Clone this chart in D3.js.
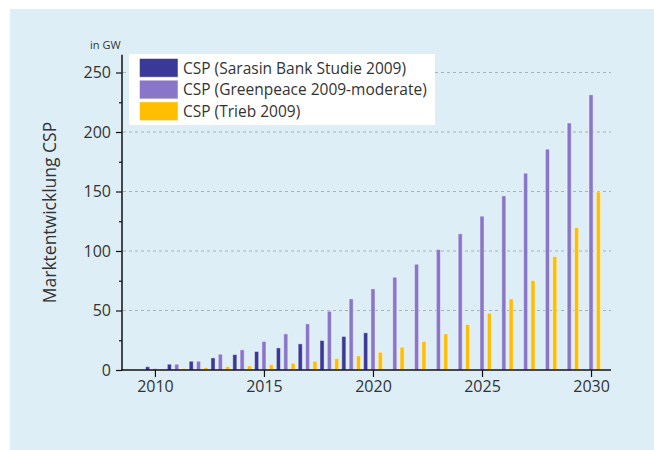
<!DOCTYPE html>
<html><head><meta charset="utf-8">
<script src="https://cdn.jsdelivr.net/npm/d3@7"></script>
<style>
html,body{margin:0;padding:0;background:#fff;}
svg{display:block;font-family:"Open Sans","Noto Sans",sans-serif;}
</style></head>
<body>
<svg id="chart" width="654" height="450"></svg>
<script>
const years = [2009,2010,2011,2012,2013,2014,2015,2016,2017,2018,2019,2020,2021,2022,2023,2024,2025,2026,2027,2028,2029,2030];
const sarasin = [0.8,3.2,5.3,7.8,10.6,13.4,16,19,22.4,25.2,28.6,31.7];
const greenpeace = [0.8,1.6,5.3,7.8,13.7,17.4,24.4,30.8,39.2,49.8,60.2,68.6,78.4,89.3,101.7,114.9,129.7,146.8,165.8,186,208,231.7];
const trieb = [0.5,1.1,1.7,2.5,3.4,3.9,5,6.1,7.8,10.1,12.3,15.4,19.6,24.4,30.8,38.7,48.2,60.2,75.6,95.8,120.2,150];
const seriesNames = ["CSP (Sarasin Bank Studie 2009)","CSP (Greenpeace 2009-moderate)","CSP (Trieb 2009)"];
const seriesColors = ["#3b3997","#8a76c8","#ffbe00"];
const seriesData = [sarasin, greenpeace, trieb];
const xTicks = [2010,2015,2020,2025,2030];
const yTicks = [0,50,100,150,200,250];
const yMinor = [25,75,125,175,225];

const svg = d3.select("#chart");
// panel background
svg.append("rect").attr("x",10).attr("y",9).attr("width",644).attr("height",441).attr("fill","#deeef7");

const x = d3.scaleLinear().domain([2008.49,2030.87]).range([122,610]);
const y = d3.scaleLinear().domain([0,265]).range([370,54.65]);
const inner = d3.scaleBand().domain([0,1,2]).range([-11,11]).paddingInner(0.3).paddingOuter(0.15);

// gridlines
svg.append("g").selectAll("line").data(yTicks.filter(d=>d>0)).join("line")
  .attr("x1",123).attr("x2",611).attr("y1",d=>y(d)).attr("y2",d=>y(d))
  .attr("stroke","#a9b1b9").attr("stroke-width",1).attr("stroke-dasharray","3,3");

// bars
seriesData.forEach((vals,si)=>{
  svg.append("g").selectAll("rect").data(vals.map((v,i)=>({year:years[i],v}))).join("rect")
    .attr("x",d=>x(d.year)+inner(si)+0.5)
    .attr("width",inner.bandwidth()-1)
    .attr("y",d=>y(d.v)+0.5)
    .attr("height",d=>Math.max(0,y(0)-y(d.v)-0.5))
    .attr("fill",seriesColors[si])
    .attr("stroke","rgba(255,255,255,0.45)")
    .attr("stroke-width",1);
});

// y axis
const yAxis = svg.append("g").attr("transform","translate(122,0)")
  .call(d3.axisLeft(y).tickValues(yTicks).tickSize(6).tickPadding(5));
yAxis.select(".domain").remove();
svg.append("g").attr("transform","translate(122,0)")
  .call(d3.axisLeft(y).tickValues(yMinor).tickSize(3).tickFormat(""))
  .select(".domain").remove();
svg.append("line").attr("x1",122).attr("x2",122).attr("y1",y(265)).attr("y2",y(0)+0.75)
  .attr("stroke","#111").attr("stroke-width",1.5);

// x axis
const xAxis = svg.append("g").attr("transform","translate(0,370)")
  .call(d3.axisBottom(x).tickValues(xTicks).tickFormat(d3.format("d")).tickSize(7).tickPadding(4));
xAxis.select(".domain").remove();
svg.append("line").attr("x1",121.25).attr("x2",611).attr("y1",370).attr("y2",370)
  .attr("stroke","#111").attr("stroke-width",1.5);

svg.selectAll(".tick line").attr("stroke","#111").attr("stroke-width",1.2);
svg.selectAll(".tick text").attr("font-size",16).attr("fill","#333").attr("font-family","'Open Sans','Noto Sans',sans-serif");

// axis titles
svg.append("text").attr("x",90).attr("y",49).attr("font-size",11).attr("fill","#333").text("in GW");
svg.append("text").attr("transform","translate(56,212.5) rotate(-90)").attr("text-anchor","middle")
  .attr("font-size",17.5).attr("fill","#333").text("Marktentwicklung CSP");

// legend
const lg = svg.append("g");
lg.append("rect").attr("x",129).attr("y",54).attr("width",306).attr("height",71).attr("fill","#fff");
seriesNames.forEach((n,i)=>{
  lg.append("rect").attr("x",139.5).attr("y",58.5+i*21.7).attr("width",38.5).attr("height",18.7)
    .attr("fill",seriesColors[i]).attr("stroke","rgba(255,255,255,0.5)").attr("stroke-width",1);
  lg.append("text").attr("x",183).attr("y",73.5+i*21.7).attr("font-size",15.5).attr("fill","#333").text(n);
});
</script>
</body></html>
